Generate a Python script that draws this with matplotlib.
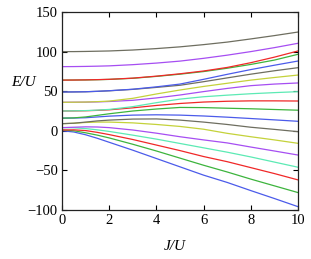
import matplotlib
matplotlib.use("Agg")
import matplotlib.pyplot as plt

x = [0, 0.5, 1, 1.5, 2, 3, 4, 5, 6, 7, 8, 9, 10]

# energy levels E/U, sorted from lowest (index 0) to highest
e00 = [0, -1.5, -5, -9.5, -14.5, -24.5, -35, -45.5, -56, -65.2, -75.5, -85.5, -95.8]
e01 = [1, 0, -2.5, -5.5, -9, -17, -25.5, -34.5, -43.5, -52, -61, -69.5, -78]
e02 = [1, 1.2, 0.3, -2, -4.8, -11, -18, -25, -32.5, -39, -46.5, -54, -62]
e03 = [4, 3.8, 2.8, 1.2, -0.8, -5.5, -10.5, -16, -21.5, -27, -33, -39.5, -46]
e04 = [4, 4.5, 5, 4.8, 4, 1, -3, -7.5, -11.5, -15.3, -20.5, -25.5, -30.6]
e05 = [9, 9.5, 10.5, 11, 11, 10, 8, 5.5, 2, -3.2, -7.5, -11.5, -15.8]
e06 = [9, 9.6, 11, 12.5, 13.5, 14.8, 15, 13.5, 11, 8, 4.5, 1.8, -1.1]
e07 = [16, 16.1, 16.5, 17.5, 18.5, 19.8, 20.2, 19.8, 18.7, 17.2, 15.5, 13.8, 12]
e08 = [16, 16.3, 17.5, 19.5, 21.5, 25, 27.5, 29.5, 29.3, 28.5, 27.8, 26.9, 26]
e09 = [25, 25.1, 25.3, 25.8, 26.5, 29, 32, 34.5, 36.3, 37.3, 37.8, 37.8, 37.6]
e10 = [25, 25.2, 25.5, 26.1, 27, 30.5, 35.5, 40, 43, 45, 46.8, 48.2, 49.4]
e11 = [36, 36.1, 36.2, 36.5, 37, 38.5, 41.5, 45.2, 49.5, 53.5, 57, 59, 60.4]
e12 = [36, 36.1, 36.3, 36.8, 37.5, 41, 46.5, 51.5, 56, 60, 64, 67.3, 70.4]
e13 = [49, 49.1, 49.3, 49.8, 50.5, 52.3, 54.8, 57.5, 62, 66.8, 71.5, 75.8, 79.7]
e14 = [49, 49.1, 49.3, 49.9, 50.6, 52.5, 55.5, 59, 65, 71.3, 77.3, 82.8, 88.1]
e15 = [64, 64.1, 64.2, 64.5, 64.9, 66.3, 68.7, 71.5, 74.8, 79, 83.8, 89.3, 96.6]
e16 = [64, 64.1, 64.3, 64.6, 65, 66.5, 69, 72, 75.5, 80, 86, 93, 100.8]
e17 = [81, 81.1, 81.3, 81.6, 82, 83.5, 85.5, 88, 91.5, 95.5, 100, 105, 110.5]
e18 = [100, 100, 100.2, 100.5, 100.8, 102, 103.8, 106, 108.8, 112, 116, 120.2, 124.7]

levels = [e00, e01, e02, e03, e04, e05, e06, e07, e08, e09,
          e10, e11, e12, e13, e14, e15, e16, e17, e18]

xticks = [0, 2, 4, 6, 8, 10]
yticks = [-100, -50, 0, 50, 100, 150]

blue, green, red, cyan = '#4b5bea', '#3db43d', '#f02828', '#5ceab4'
purple, yellow, gray = '#a64ef2', '#c4d23a', '#6e6e60'
# colour of each level, lowest first
level_colors = [blue, green, red, cyan, purple, yellow, gray,
                blue, green, red, cyan, purple, yellow, gray,
                blue, green, red, purple, gray]

plt.rcParams['font.family'] = ['Liberation Serif', 'DejaVu Serif']

fig = plt.figure(figsize=(3.11, 2.59), dpi=100)
ax = fig.add_axes([62 / 311, 49 / 259, 236 / 311, 198 / 259])

for e, c in zip(levels, level_colors):
    ax.plot(x, e, color=c, linewidth=0.9)

ax.set_xlim(0, 10)
ax.set_ylim(-100, 150)
ax.set_xticks(xticks)
ax.set_yticks(yticks)
ax.tick_params(direction='in', top=True, right=True, length=3.5, width=0.8,
               labelsize=10.5, pad=3)
for s in ax.spines.values():
    s.set_linewidth(0.9)
    s.set_color('#222222')

fig.text(0.074, 0.683, 'E/U', fontsize=11, style='italic', ha='center', va='center')
fig.text(0.563, 0.05, 'J/U', fontsize=11, style='italic', ha='center', va='center')

fig.savefig('out.png', dpi=100)
